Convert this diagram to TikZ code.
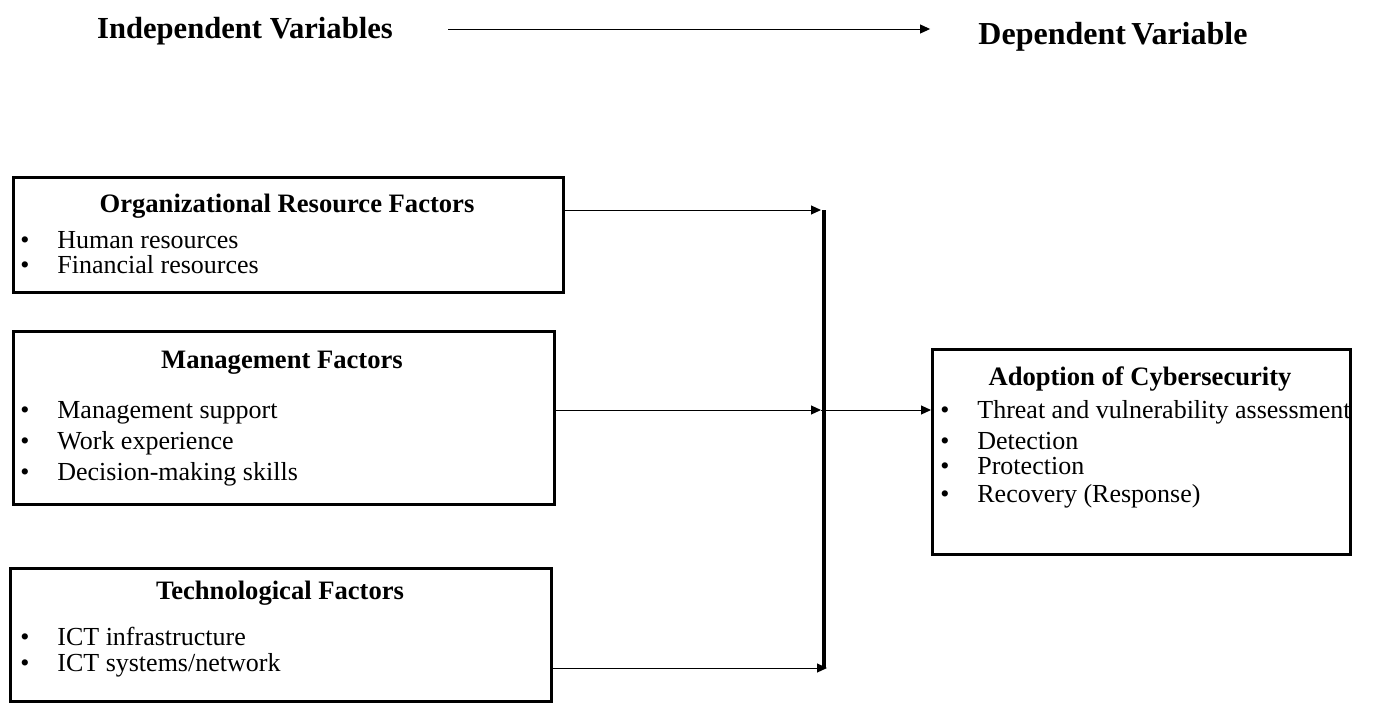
\documentclass[tikz,border=0pt]{standalone}
\usepackage{fontspec}
\setmainfont{Liberation Serif}
\usetikzlibrary{arrows.meta,positioning}
\tikzset{
  font={\fontsize{13pt}{15}\selectfont}}
\newcommand{\itm}[1]{\makebox[18.5pt][l]{\textbullet}#1}

\begin{document}
\begin{tikzpicture}[x=0.5pt,y=-0.5pt]
\tikzstyle{every node}+=[inner sep=0pt]
\tikzstyle{factor}=[draw,line width=1.5pt,anchor=north west]
\tikzstyle{head}=[anchor=base,font={\fontsize{15.3pt}{18}\selectfont\bfseries}]
\tikzstyle{ttl}=[anchor=base,font={\fontsize{13.3pt}{16}\selectfont\bfseries}]
\tikzstyle{itemtxt}=[anchor=base west]
\tikzstyle{link}=[-{Triangle[length=5pt,width=4.5pt]},line width=0.5pt]
\useasboundingbox (0,0) rectangle (1382,702);
% headings
\node[head] (indep) at (245,38) {Independent Variables};
\node[head,font={\fontsize{16pt}{18}\selectfont\bfseries}] (dep) at (1113,44) {Dependent\,Variable};
\draw[link] (448,29) coordinate (hstart) -- (hstart -| dep.west) [shorten >=24pt];
% factor boxes
\node[factor,minimum width=275pt,minimum height=57.5pt] (org) at (12,176) {};
\node[ttl] (orgt) at (287,212) {Organizational Resource Factors};
\node[itemtxt] (org1) at (20,248) {\itm{Human resources}};
\node[itemtxt] (org2) at (20,273) {\itm{Financial resources}};
\node[factor,minimum width=270.5pt,minimum height=86.5pt] (mgt) at (12,330) {};
\node[ttl] (mgtt) at (282,368) {Management Factors};
\node[itemtxt] (mgt1) at (20,418) {\itm{Management support}};
\node[itemtxt] (mgt2) at (20,449) {\itm{Work experience}};
\node[itemtxt] (mgt3) at (20,480) {\itm{Decision-making skills}};
\node[factor,minimum width=270.5pt,minimum height=66.5pt] (tech) at (9,567) {};
\node[ttl] (techt) at (280,599) {Technological Factors};
\node[itemtxt] (tech1) at (20,645) {\itm{ICT infrastructure}};
\node[itemtxt] (tech2) at (20,671) {\itm{ICT systems/network}};
% outcome box
\node[factor,minimum width=209pt,minimum height=102.5pt] (adopt) at (931,348) {};
\node[ttl] (adoptt) at (1140,385) {Adoption of Cybersecurity};
\node[itemtxt] (adopt1) at (940,418) {\itm{Threat and vulnerability assessment}};
\node[itemtxt] (adopt2) at (940,449) {\itm{Detection}};
\node[itemtxt] (adopt3) at (940,474) {\itm{Protection}};
\node[itemtxt] (adopt4) at (940,502) {\itm{Recovery (Response)}};
% joining bar
\coordinate (bartop) at (821,210);
\coordinate (barmid) at (821,410);
\coordinate (barbot) at (821,668);
\draw[line width=2pt] ([xshift=1.5pt]bartop) -- ([xshift=1.5pt]barbot);
\draw[link] (org.east |- bartop) -- (bartop);
\draw[link] (mgt.east |- barmid) -- (barmid);
\draw[link] (tech.east |- barbot) -- ([xshift=3pt]barbot);
\draw[link] (barmid) -- (adopt.west |- barmid);
\end{tikzpicture}
\end{document}
